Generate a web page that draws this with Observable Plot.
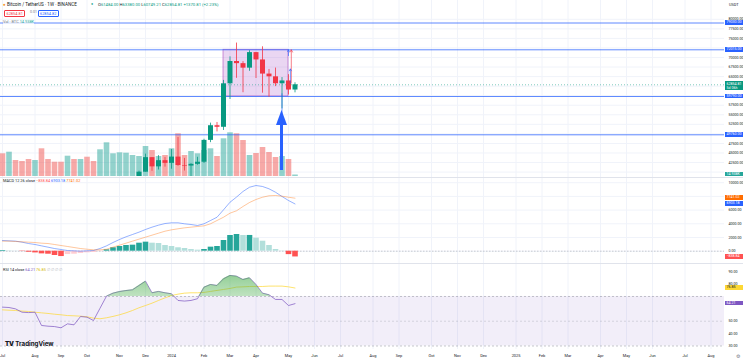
<!DOCTYPE html>
<html><head><meta charset="utf-8">
<script src="https://cdn.jsdelivr.net/npm/d3@7"></script>
<script src="https://cdn.jsdelivr.net/npm/@observablehq/plot@0.6"></script>
<style>
html,body{margin:0;padding:0;background:#fff;}
#root{position:relative;width:743px;height:361px;overflow:hidden;font-family:Roboto,"Noto Sans",sans-serif;background:#fff;}
.t{position:absolute;white-space:nowrap;color:#131722;line-height:1;}
.lab{position:absolute;left:725px;width:18px;height:4.6px;font-size:3.6px;line-height:4.6px;padding-left:1.5px;box-sizing:border-box;color:#fff;white-space:nowrap;overflow:hidden;}
</style></head><body><div id="root"></div>
<script>
// ---------- DATA ----------
const weeks = ["2023-07-03","2023-07-10","2023-07-17","2023-07-24","2023-07-31","2023-08-07","2023-08-14","2023-08-21","2023-08-28","2023-09-04","2023-09-11","2023-09-18","2023-09-25","2023-10-02","2023-10-09","2023-10-16","2023-10-23","2023-10-30","2023-11-06","2023-11-13","2023-11-20","2023-11-27","2023-12-04","2023-12-11","2023-12-18","2023-12-25","2024-01-01","2024-01-08","2024-01-15","2024-01-22","2024-01-29","2024-02-05","2024-02-12","2024-02-19","2024-02-26","2024-03-04","2024-03-11","2024-03-18","2024-03-25","2024-04-01","2024-04-08","2024-04-15","2024-04-22","2024-04-29","2024-05-06","2024-05-13"];
const open  = [30585,30250,30300,29910,29300,29050,29430,26100,26010,25830,25820,26530,26250,27970,27920,27150,29990,34500,35020,37060,37360,37450,39970,43780,41370,42990,42280,43930,41730,41580,42030,42580,48300,52140,51730,63110,68960,68390,67210,71280,69360,65660,64940,63120,63860,61484];
const high  = [31500,31800,30440,29990,29600,30250,29690,26800,28150,26400,26890,27480,28060,28600,27990,30360,35280,35980,37970,37980,38400,40250,44700,43800,44300,43800,45900,49050,43580,42200,43880,48600,52820,52990,64000,70170,73780,68920,71770,71340,72800,66870,67230,64740,65500,63380];
const low   = [29700,30050,29500,29030,28580,28750,25170,25800,25330,25330,24900,26340,25990,27150,26520,26960,29870,33400,34520,34760,35630,36980,39980,40200,40550,41300,40750,41500,40280,38550,41800,42260,47700,50520,50900,59000,64550,60780,66390,64500,60660,59600,62390,56550,60190,60749.21];
const close = [30250,30300,29910,29300,29050,29430,26100,26010,25830,25820,26530,26250,27970,27920,27150,29990,34500,35020,37060,37360,37450,39970,43780,41370,42990,42280,43930,41730,41580,42030,42580,48300,52140,51730,63110,68960,68390,67210,71280,69360,65660,64940,63120,63860,61484,62854.81];
const volumeK = [227,243,160,150,170,160,277,170,143,143,203,170,170,193,150,267,337,227,237,233,210,200,300,260,200,210,277,427,210,250,227,260,277,200,377,437,427,360,210,230,290,240,190,200,170,14.938];
const macdLine = [1560,1510,1470,1320,1120,980,780,590,390,250,100,50,0,50,100,390,780,1270,1710,2100,2440,2780,3170,3510,3800,4040,4140,4140,4000,3900,3750,4000,4480,4960,6040,7150,7900,8720,9340,9590,9450,9110,8610,7990,7400,6903.18];
const signalLine = [1470,1470,1420,1370,1320,1270,1170,1120,980,830,690,540,390,290,200,200,290,590,880,1170,1470,1760,2050,2340,2630,2920,3120,3270,3410,3510,3610,3700,4000,4480,4960,5550,5900,6530,7110,7550,7880,8090,8130,8030,7880,7741.02];
const macdHist = [100,40,20,-50,-150,-250,-390,-440,-630,-780,-490,-440,-340,-240,-190,-60,200,500,690,830,880,1170,1320,1170,1120,830,690,500,390,240,150,250,590,690,1560,2290,2440,2290,2300,1900,1460,830,250,30,-500,-838.84];
const rsi = [61.4,61.1,60,57.3,57,57.3,46.6,46,45.7,44.7,47.9,47.1,53.8,53.3,50.6,60.5,70.3,72.7,74,74.8,75.4,78.9,82.4,73,74.1,73,72.2,66.8,66.3,66.8,68.2,77.5,79.7,78.9,84.3,87,86.4,83.7,85.1,79.7,72.7,71.4,67.6,67.6,62.7,64.21];
const rsiMA = [59.2,58.9,58.7,58.2,57.9,57.3,56.8,56.3,55.7,55.2,54.6,54.4,54.1,53.6,52.5,52,52.8,53.9,55.2,56.8,58.7,60.9,62.7,64.6,66.8,68.9,70.8,71.9,72.7,73,73,73.3,74.1,74.9,75.7,76.5,77.6,77.8,78.1,78.1,78.1,78.4,78.4,78.4,77.8,76.85];
const priceTicks = [42500,45000,47500,52500,55000,57500,65000,67500,70000,75000,77500,80000];
const hLines = [79030,72015,59790,49760];
const hLineLabels = ["79030.00","72015.00","59790.00","49760.00"];
const boxZone = {from:"2024-02-26", to:"2024-05-06", top:72015, bottom:59790};
const bigArrow = {date:"2024-04-29", from:40420, to:56120};
const macdTicks = [0,2000,4000,6000,10000];
const rsiTicks = [30,40,50,80,90];
const timeTicks = ["2023-07-03","2023-08-07","2023-09-04","2023-10-02","2023-11-06","2023-12-04","2024-01-01","2024-02-05","2024-03-04","2024-04-01","2024-05-06","2024-06-03","2024-07-01","2024-08-05","2024-09-02","2024-10-07","2024-11-04","2024-12-02","2025-01-06","2025-02-03","2025-03-03","2025-04-07","2025-05-05","2025-06-02","2025-07-07","2025-08-04"];
const timeLabels = ["Jul","Aug","Sep","Oct","Nov","Dec","2024","Feb","Mar","Apr","May","Jun","Jul","Aug","Sep","Oct","Nov","Dec","2025","Feb","Mar","Apr","May","Jun","Jul","Aug"];

// ---------- LAYOUT ----------
const W = 743, MR = 19;
const WEEK = 7*864e5, T0 = Date.UTC(2024,0,1);
const X0 = new Date(T0 - 171/6.5*WEEK), X1 = new Date(T0 + 553/6.5*WEEK);
const root = document.getElementById("root");
const dt = s => new Date(s + "T00:00:00Z");
const bars = weeks.map((w,i)=>({date:dt(w), o:open[i], h:high[i], l:low[i], c:close[i], v:volumeK[i], m:macdLine[i], s:signalLine[i], hist:macdHist[i], r:rsi[i], ra:rsiMA[i], prevHist: i? macdHist[i-1] : macdHist[i]}));
const UP = "#089981", DN = "#f23645", BLUE = "#2962ff";
const GRID = "#f0f3fa";
const PRICE_DOM = [38845, 84922], MACD_DOM = [-1650, 10906], RSI_DOM = [27.17, 97.47];

function layer(top, height, yDomain, marks){
  const p = Plot.plot({width:W, height, marginLeft:0, marginRight:MR, marginTop:0, marginBottom:0,
    x:{type:"utc", domain:[X0,X1], axis:null}, y:{domain:yDomain, axis:null},
    style:{background:"transparent", fontFamily:"Roboto, sans-serif", overflow:"visible"}, marks});
  p.style.position="absolute"; p.style.left="0"; p.style.top=top+"px";
  root.appendChild(p); return p;
}
function axisR(ticks, fmt){ return Plot.axisY(ticks, {anchor:"right", tickSize:0, tickPadding:4, tickFormat:fmt, fontSize:3.6, fill:"#131722", textAnchor:"start"}); }
const f2 = d3.format(".2f");
function label(y, text, bg, fg, h){ const d=document.createElement("div"); d.className="lab"; d.style.top=(y-(h||4.6)/2)+"px"; d.style.background=bg; d.style.color=fg||"#fff"; if(h){d.style.height=h+"px";d.style.lineHeight="1.2";d.style.paddingTop="0.4px";} d.innerHTML=text; root.appendChild(d); return d; }
function txt(x,y,html,size,style){ const d=document.createElement("div"); d.className="t"; d.style.left=x+"px"; d.style.top=y+"px"; d.style.fontSize=(size||4.6)+"px"; if(style) d.style.cssText+=style; d.innerHTML=html; root.appendChild(d); return d; }

// grid under price
layer(0,176,PRICE_DOM,[
  Plot.gridX(timeTicks.map(dt),{stroke:GRID, strokeOpacity:1}),
  Plot.gridY(priceTicks.concat([40000,50000,60000,62500,72500]),{stroke:GRID, strokeOpacity:1}),
  axisR(priceTicks, f2)
]);
// volume
layer(0,176,[0,1760],[
  Plot.ruleX(bars,{x:"date", y1:0, y2:"v", stroke:d=>d.c>=d.o?"#26a69a":"#ef5350", strokeOpacity:0.5, strokeWidth:5.6, clip:true})
]);
// price
const pricePlot = layer(0,176,PRICE_DOM,[
  Plot.rect([boxZone],{x1:d=>dt(d.from), x2:d=>dt(d.to), y1:"bottom", y2:"top", fill:"#b36ad1", fillOpacity:0.28, stroke:"#9c27b0", strokeOpacity:0.6, strokeWidth:0.8}),
  Plot.ruleY(hLines,{stroke:BLUE, strokeOpacity:0.75, strokeWidth:1}),
  Plot.ruleY([close[close.length-1]],{stroke:UP, strokeDasharray:"1,2", strokeOpacity:0.5}),
  Plot.ruleX(bars,{x:"date", y1:"l", y2:"h", stroke:d=>d.c>=d.o?UP:DN, strokeWidth:0.8, clip:true}),
  Plot.ruleX(bars,{x:"date", y1:"o", y2:"c", stroke:d=>d.c>=d.o?UP:DN, strokeWidth:5, clip:true}),
  // big arrow: shaft + filled head, placed through the scales
  (index, scales) => {
    const ns="http://www.w3.org/2000/svg", g=document.createElementNS(ns,"g");
    const x=scales.x(dt(bigArrow.date)), y0=scales.y(bigArrow.from), y1=scales.y(bigArrow.to);
    const shaft=document.createElementNS(ns,"line");
    shaft.setAttribute("x1",x); shaft.setAttribute("x2",x); shaft.setAttribute("y1",y0); shaft.setAttribute("y2",y1+13);
    shaft.setAttribute("stroke",BLUE); shaft.setAttribute("stroke-width",3);
    const head=document.createElementNS(ns,"polygon");
    head.setAttribute("points",`${x-5.5},${y1+15} ${x},${y1} ${x+5.5},${y1+15}`); head.setAttribute("fill",BLUE);
    g.appendChild(shaft); g.appendChild(head); return g;
  },
  Plot.ruleX([{d:"2024-04-29", a:52000, b:60500}],{x:d=>dt(d.d), y1:"a", y2:"b", stroke:BLUE, strokeWidth:0.8, strokeOpacity:0.8}),
  Plot.arrow([{d:"2024-05-06", a:70500, b:72015}],{x:d=>dt(d.d), y1:"a", y2:"b", stroke:BLUE, strokeWidth:0.8, headLength:5, strokeOpacity:0.8}),
  Plot.arrow([{d:"2024-05-09", a:63300, b:72015}],{x:d=>dt(d.d), y1:"a", y2:"b", stroke:DN, strokeWidth:0.8, headLength:5, strokeOpacity:0.8}),
  Plot.arrow([{d:"2024-05-08", a:63200, b:67000}],{x:d=>dt(d.d), y1:"a", y2:"b", stroke:BLUE, strokeWidth:0.8, headLength:4, strokeOpacity:0.8})
]);
const yP = pricePlot.scale("y");
hLines.forEach((v,i)=>label(yP.apply(v), hLineLabels[i], BLUE));
label(yP.apply(close[close.length-1])+1.5, f2(close[close.length-1])+"<br>5d 06h", UP, "#fff", 8.6);
label(174, "14.938K", "#26a69a");

// MACD
const macdPlot = layer(176,86,MACD_DOM,[
  Plot.gridX(timeTicks.map(dt),{stroke:GRID, strokeOpacity:1}),
  Plot.gridY(macdTicks.concat([8000]),{stroke:GRID, strokeOpacity:1}),
  Plot.ruleY([0],{stroke:"#b2b5be", strokeDasharray:"1.5,1.5", strokeOpacity:0.7}),
  Plot.ruleX(bars,{x:"date", y1:0, y2:"hist", strokeWidth:5.6, clip:true,
    stroke:d=> d.hist>=0 ? (d.hist>=d.prevHist?"#26a69a":"#b2dfdb") : (d.hist<d.prevHist?"#ff5252":"#ffcdd2")}),
  Plot.lineY(bars,{x:"date", y:"m", stroke:BLUE, strokeWidth:0.7, strokeOpacity:0.7, clip:true}),
  Plot.lineY(bars,{x:"date", y:"s", stroke:"#ff6d00", strokeWidth:0.7, strokeOpacity:0.55, clip:true}),
  axisR(macdTicks, f2)
]);
const yM = macdPlot.scale("y");
label(176+yM.apply(7741.02), "7741.02", "#ff6d00");
label(176+yM.apply(6903.18), "6903.18", BLUE);
label(176+yM.apply(-838.84), "\u2212838.84", "#ff5252");

// RSI
const rsiPlot = layer(262,87,RSI_DOM,[
  Plot.gridX(timeTicks.map(dt),{stroke:GRID, strokeOpacity:1}),
  Plot.rect([{a:30,b:70}],{x1:()=>X0, x2:()=>X1, y1:"a", y2:"b", fill:"#7e57c2", fillOpacity:0.1}),
  Plot.ruleY([70,30],{stroke:"#787b86", strokeDasharray:"2,2", strokeOpacity:0.6, strokeWidth:0.7}),
  Plot.ruleY([50],{stroke:"#787b86", strokeDasharray:"2,2", strokeOpacity:0.35, strokeWidth:0.7}),
  Plot.lineY(bars,{x:"date", y:"ra", stroke:"#fdd835", strokeWidth:0.8, strokeOpacity:0.9, clip:true}),
  Plot.lineY(bars,{x:"date", y:"r", stroke:"#7e57c2", strokeWidth:0.9, strokeOpacity:0.8, clip:true}),
  axisR(rsiTicks, f2)
]);
// RSI overbought gradient fill (clipped above 70)
layer(262,34,[70,RSI_DOM[1]],[
  () => { const ns="http://www.w3.org/2000/svg"; const g=document.createElementNS(ns,"defs");
    g.innerHTML='<linearGradient id="obg" x1="0" y1="0" x2="0" y2="1"><stop offset="0" stop-color="#4caf50" stop-opacity="0.6"/><stop offset="1" stop-color="#4caf50" stop-opacity="0"/></linearGradient>'; return g; },
  Plot.areaY(bars,{x:"date", y1:70, y2:"r", fill:"url(#obg)", clip:true})
]);
const yR = rsiPlot.scale("y");
label(262+yR.apply(76.85), "76.85", "#fdd835", "#131722");
label(262+yR.apply(64.21), "64.21", "#7e57c2");

// time axis
layer(349,12,[0,1],[
  Plot.text(timeTicks.map(dt),{x:d=>d, y:0.5, text:(d,i)=>timeLabels[i], fontSize:3.9, fill:"#131722"})
]);

// pane separators
[176.5,262.5].forEach(y=>{const d=document.createElement("div");d.style.cssText=`position:absolute;left:0;top:${y}px;width:743px;height:0.6px;background:#e0e3eb`;root.appendChild(d);});

// ---------- TEXT ----------
txt(3,3.2,'<span style="color:#f7931a">&#9679;</span> Bitcoin / TetherUS · 1W · BINANCE',4.6);
txt(91,3.4,'<span style="color:#089981">&#9679;</span>',3.6);
txt(98,3.4,'<span style="color:#131722">O</span><span style="color:#089981">61484.00</span> <span style="color:#131722">H</span><span style="color:#089981">63380.00</span> <span style="color:#131722">L</span><span style="color:#089981">60749.21</span> <span style="color:#131722">C</span><span style="color:#089981">62854.81</span> <span style="color:#089981">+1370.81 (+2.23%)</span>',4.2);
txt(4,10.2,'62854.81',3.9,'color:#f23645;border:0.6px solid #f23645;padding:0.6px 1.5px;border-radius:1px;');
txt(30,11,'0.01',3.6,'color:#787b86;');
txt(37.5,10.2,'62854.82',3.9,'color:#2962ff;border:0.6px solid #2962ff;padding:0.6px 1.5px;border-radius:1px;');
txt(3,20,'Vol · BTC <span style="color:#26a69a">14.938K</span>',3.9,'color:#787b86;background:rgba(255,255,255,0.7)');
txt(3,179,'MACD 12 26 close <span style="color:#ff5252">\u2212838.84</span> <span style="color:#2962ff">6903.18</span> <span style="color:#ff6d00">7741.02</span>',3.9,'color:#131722');
txt(3,267.5,'RSI 14 close <span style="color:#7e57c2">64.21</span> <span style="color:#d4b800">76.85</span> <span style="color:#b2b5be">∅ ∅ ∅ ∅</span>',3.9,'color:#131722');
txt(5,341.3,'<span style="font-weight:900;letter-spacing:-0.3px">TV</span> <span style="font-weight:700">TradingView</span>',6.2,'color:#131722;font-family:Inter,Roboto,sans-serif');
txt(729,3,'USDT',3.9,'color:#131722');
txt(736,353.5,'⚙',5,'color:#787b86');
</script></body></html>
